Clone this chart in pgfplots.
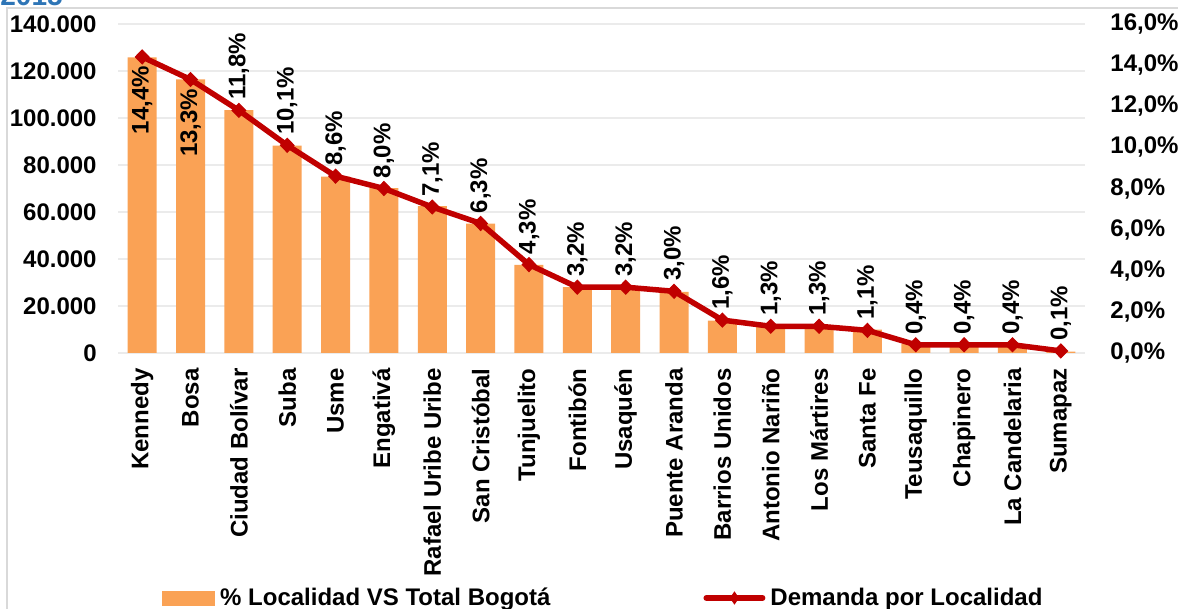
\documentclass[border=0pt]{standalone}
\usepackage{fontspec}
\setmainfont{Liberation Sans}
\usepackage{graphicx}
\usepackage{pgfplots}
\pgfplotsset{compat=1.18}
\usepackage{pgfplotstable}
\definecolor{barorange}{RGB}{250,162,85}
\definecolor{linered}{RGB}{192,0,0}
\definecolor{gridgray}{RGB}{235,235,235}
\definecolor{framegray}{RGB}{217,217,217}
\definecolor{titleblue}{RGB}{46,117,182}
\newcommand\lbl{\fontsize{12}{14}\selectfont\bfseries}

\pgfplotstableread{
x demanda pct
0 125800 14.4
1 116400 13.3
2 103400 11.8
3 88200 10.1
4 75000 8.6
5 70200 8.0
6 62500 7.1
7 55000 6.3
8 37500 4.3
9 28000 3.2
10 27500 3.2
11 26000 3.0
12 13800 1.6
13 11300 1.3
14 11200 1.3
15 9900 1.1
16 3900 0.4
17 3500 0.4
18 3400 0.4
19 600 0.1
}\datatable

\begin{document}
\begin{tikzpicture}[x=1pt,y=1pt]
\useasboundingbox (0,0) rectangle (589,304.5);
\node[anchor=base west, inner sep=0pt, text=titleblue, font=\fontsize{14}{16}\selectfont\bfseries] at (0,301.5) {2015};
\draw[framegray, line width=1pt] (3.5,-5) -- (3.5,300.5) -- (600,300.5);
\begin{axis}[
  at={(59pt,128pt)}, anchor=south west,
  scale only axis, width=483.5pt, height=164.5pt,
  xmin=-0.5, xmax=19.5, ymin=0, ymax=140000,
  ytick={0,20000,...,140000},
  xtick={0,...,19},
  xticklabels={Kennedy, Bosa, Ciudad Bolívar, Suba, Usme, Engativá, Rafael Uribe Uribe, San Cristóbal, Tunjuelito, Fontibón, Usaquén, Puente Aranda, Barrios Unidos, Antonio Nariño, Los Mártires, Santa Fe, Teusaquillo, Chapinero, La Candelaria, Sumapaz},
  axis line style={draw=none},
  major tick length=0pt,
  ymajorgrids, major grid style={gridgray, line width=0.75pt},
  scaled y ticks=false,
  yticklabel style={/pgf/number format/.cd, fixed, 1000 sep={.}, assume math mode=true, /tikz/.cd, font=\lbl, inner sep=0pt, anchor=east, xshift=-10.5pt},
  xticklabel style={font=\lbl, inner sep=0pt, yshift=-7.5pt, rotate=90, anchor=east},
  ybar, bar width=14.5pt,
]
\addplot[fill=barorange, draw=none] table[x=x, y=demanda] {\datatable};
\end{axis}
\begin{axis}[
  at={(59pt,128pt)}, anchor=south west,
  scale only axis, width=483.5pt, height=164.5pt,
  xmin=-0.5, xmax=19.5, ymin=0, ymax=16,
  axis y line*=right, axis x line=none,
  axis line style={draw=none},
  major tick length=0pt,
  ytick={0,2,...,16},
  yticklabel={\pgfmathprintnumber[fixed, fixed zerofill, precision=1, use comma, assume math mode=true]{\tick}\%},
  yticklabel style={font=\lbl, inner sep=0pt, anchor=west, xshift=12.5pt},
  legend columns=2,
  legend cell align=left,
  legend style={at={(axis description cs:0.0455,-0.7447)}, anchor=west, draw=none, fill=none, inner sep=0pt, font=\lbl,
    nodes={inner sep=0pt},
    /tikz/every odd column/.append style={column sep=2.5pt},
    /tikz/every even column/.append style={column sep=76.5pt}},
]
\addlegendimage{legend image code/.code={\fill[barorange] (0pt,-3.5pt) rectangle (26pt,3.5pt);}}
\addlegendentry{\% Localidad VS Total Bogotá}
\addplot[linered, line width=2.75pt, mark=diamond*, mark size=3.5pt, mark options={solid, fill=linered, line width=0.5pt, xscale=1.3},
  legend image code/.code={\draw[linered, line width=3pt, line cap=round] (0pt,0pt) -- (28pt,0pt);
    \path[linered, fill=linered] plot[mark=diamond*, mark size=3pt, mark options={fill=linered, draw=linered, line width=0.4pt, xscale=0.9}] coordinates {(14pt,0pt)};}]
  table[x=x, y=pct] {\datatable};
\addlegendentry{Demanda por Localidad}
\addplot[draw=none, forget plot, point meta=y, skip coords between index={0}{2},
  nodes near coords={\pgfmathprintnumber[fixed, fixed zerofill, precision=1, use comma, assume math mode=true]{\pgfplotspointmeta}\%},
  every node near coord/.append style={font=\lbl, text=black, inner sep=0pt, yshift=5pt, rotate=90, anchor=west}]
  table[x=x, y=pct] {\datatable};
\addplot[draw=none, forget plot, point meta=y, skip coords between index={2}{20},
  nodes near coords={\pgfmathprintnumber[fixed, fixed zerofill, precision=1, use comma, assume math mode=true]{\pgfplotspointmeta}\%},
  every node near coord/.append style={font=\lbl, text=black, inner sep=0pt, yshift=-4.5pt, rotate=90, anchor=east}]
  table[x=x, y=pct] {\datatable};
\end{axis}
\end{tikzpicture}
\end{document}
